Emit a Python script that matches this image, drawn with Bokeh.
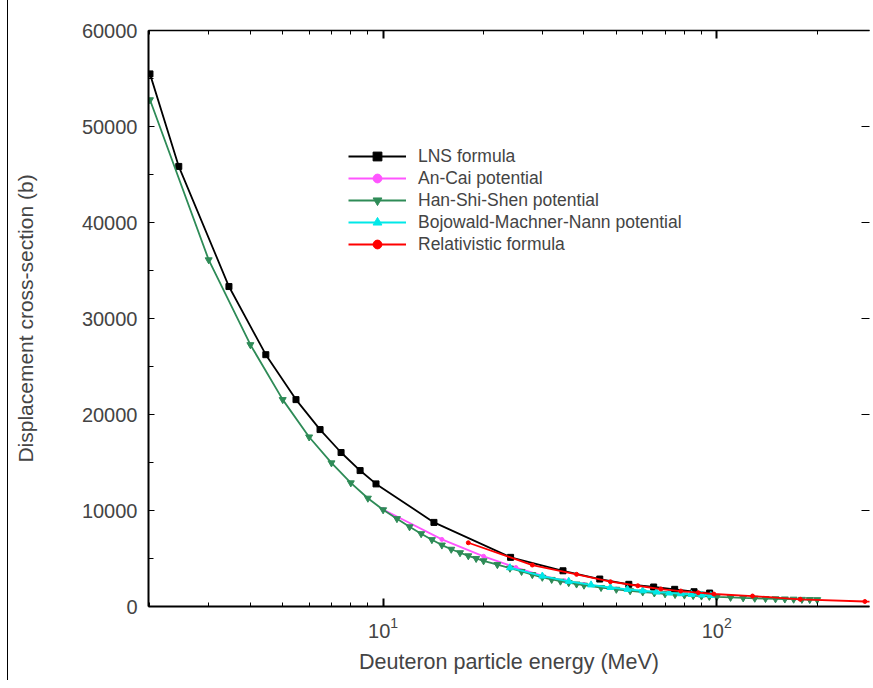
from bokeh.plotting import figure
from bokeh.layouts import row
from bokeh.models import (Range1d, LinearAxis, LogAxis, LogTicker, SingleIntervalTicker,
                          Legend, LegendItem, ColumnDataSource, Div)
from bokeh.embed import file_html
from bokeh.resources import INLINE

# ---------------- data ----------------
lns_e = [2.0, 2.44, 3.45, 4.45, 5.48, 6.47, 7.48, 8.53, 9.52, 14.2, 24.1, 34.6, 44.6,
         54.5, 64.7, 74.8, 85.5, 95.2]
lns_s = [55480, 45840, 33330, 26230, 21550, 18430, 16040, 14160, 12770, 8760, 5120, 3720,
         2860, 2310, 2030, 1790, 1540, 1400]

ancai_e = [10, 15, 20, 25, 30, 35, 40, 50, 60, 70, 80, 90, 100]
ancai_s = [10100, 6990, 5230, 4060, 3220, 2680, 2300, 1820, 1540, 1350, 1220, 1120, 1040]

hss_e = [2, 3, 4, 5, 6, 7, 8, 9, 10, 11, 12, 13, 14, 15, 16, 17, 18, 19, 20,
         22, 24, 26, 28, 30, 32, 34, 36, 38, 40,
         45, 50, 55, 60, 65, 70, 75, 80, 85, 90, 95, 100,
         110, 120, 130, 140, 150, 160, 170, 180, 190, 200]
hss_s = [52780, 36110, 27270, 21550, 17660, 14960, 12880, 11280, 10070, 9150, 8300, 7580,
         6960, 6400, 5960, 5600, 5280, 5000, 4760,
         4360, 3990, 3650, 3320, 3040, 2820, 2640, 2480, 2340, 2220,
         1980, 1790, 1640, 1510, 1410, 1320, 1250, 1190, 1140, 1090, 1050, 1010,
         950, 900, 860, 830, 800, 780, 760, 740, 720, 710]

bmn_e = [24, 30, 36, 42, 48, 54, 60, 66, 72, 78, 84, 90, 96]
bmn_s = [4040, 3170, 2620, 2250, 1980, 1790, 1640, 1510, 1410, 1330, 1260, 1200, 1150]

rel_e = [18, 28, 38, 48, 58, 68, 78, 88, 98, 128, 178, 278, 378]
rel_s = [6640, 4320, 3350, 2580, 2160, 1820, 1610, 1440, 1300, 1090, 750, 520, 450]

y_tick_step = 10000

FONT = "Liberation Sans"

p = figure(width=865, height=688, x_axis_type="log",
           x_range=Range1d(1.98, 287), y_range=Range1d(0, 60000),
           output_backend="svg", toolbar_location=None,
           min_border_left=140, min_border_right=3, min_border_top=30, min_border_bottom=82,
           background_fill_color="white", border_fill_color="white")
p.grid.visible = False
p.outline_line_color = None

# bottom axis
xa = p.xaxis[0]
xa.ticker = LogTicker(num_minor_ticks=10, desired_num_ticks=3)
xa.axis_line_width = 2
xa.major_tick_in = 8
xa.major_tick_out = 0
xa.major_tick_line_width = 2
xa.minor_tick_in = 4
xa.minor_tick_out = 0
xa.major_label_text_font = FONT
xa.major_label_text_font_size = "20px"
xa.major_label_standoff = 10
xa.axis_label = "Deuteron particle energy (MeV)"
xa.axis_label_text_font = FONT
xa.axis_label_text_font_size = "21.5px"
xa.axis_label_text_font_style = "normal"
xa.axis_label_standoff = 9

# left axis
ya = p.yaxis[0]
ya.ticker = SingleIntervalTicker(interval=y_tick_step, num_minor_ticks=2)
ya.axis_line_width = 2
ya.major_tick_in = 6
ya.major_tick_out = 0
ya.minor_tick_in = 5
ya.minor_tick_out = 0
ya.major_label_text_font = FONT
ya.major_label_text_font_size = "20px"
ya.major_label_standoff = 11
ya.axis_label = "Displacement cross-section (b)"
ya.axis_label_text_font = FONT
ya.axis_label_text_font_size = "21px"
ya.axis_label_text_font_style = "normal"
ya.axis_label_standoff = 42

# top axis (ticks only)
top = LogAxis(ticker=LogTicker(num_minor_ticks=10, desired_num_ticks=3))
top.axis_line_width = 1.5
top.major_tick_in = 8
top.major_tick_out = 0
top.major_tick_line_width = 2
top.minor_tick_in = 4
top.minor_tick_out = 0
top.major_label_text_font_size = "1px"
top.major_label_text_alpha = 0
top.major_label_standoff = 0
p.add_layout(top, "above")

# right axis (ticks only, its line lies just off the window)
right = LinearAxis(ticker=SingleIntervalTicker(interval=y_tick_step, num_minor_ticks=2))
right.axis_line_color = None
right.major_tick_in = 8
right.major_tick_out = 0
right.minor_tick_line_color = None
right.major_label_text_font_size = "1px"
right.major_label_text_alpha = 0
right.major_label_standoff = 0
p.add_layout(right, "right")

items = []


def series(e, s, color, marker, size, label):
    src = ColumnDataSource(dict(x=e, y=s))
    r1 = p.line("x", "y", source=src, line_color=color, line_width=1.8)
    r2 = p.scatter("x", "y", source=src, marker=marker, size=size,
                   fill_color=color, line_color=color)
    items.append(LegendItem(label=label, renderers=[r1, r2]))


series(lns_e, lns_s, "#000000", "square", 6, "LNS formula")
series(ancai_e, ancai_s, "#ff55ff", "circle", 4, "An-Cai potential")
series(hss_e, hss_s, "#2e8b57", "inverted_triangle", 7, "Han-Shi-Shen potential")
series(bmn_e, bmn_s, "#00e8e8", "triangle", 7, "Bojowald-Machner-Nann potential")
series(rel_e, rel_s, "#ff0000", "circle", 4, "Relativistic formula")

legend = Legend(items=items, location=(200, 351), padding=0, margin=0, spacing=0,
                label_height=22, glyph_height=22, glyph_width=58, label_standoff=12,
                label_text_font=FONT, label_text_font_size="17.5px",
                background_fill_alpha=0, border_line_color=None)
p.add_layout(legend)

edge = Div(text="", width=8, height=680, margin=0,
           styles={"border-right": "1.5px solid #000", "box-sizing": "border-box"})

layout = row(edge, p, spacing=0)

open("out.html", "w").write(file_html(layout, INLINE))
